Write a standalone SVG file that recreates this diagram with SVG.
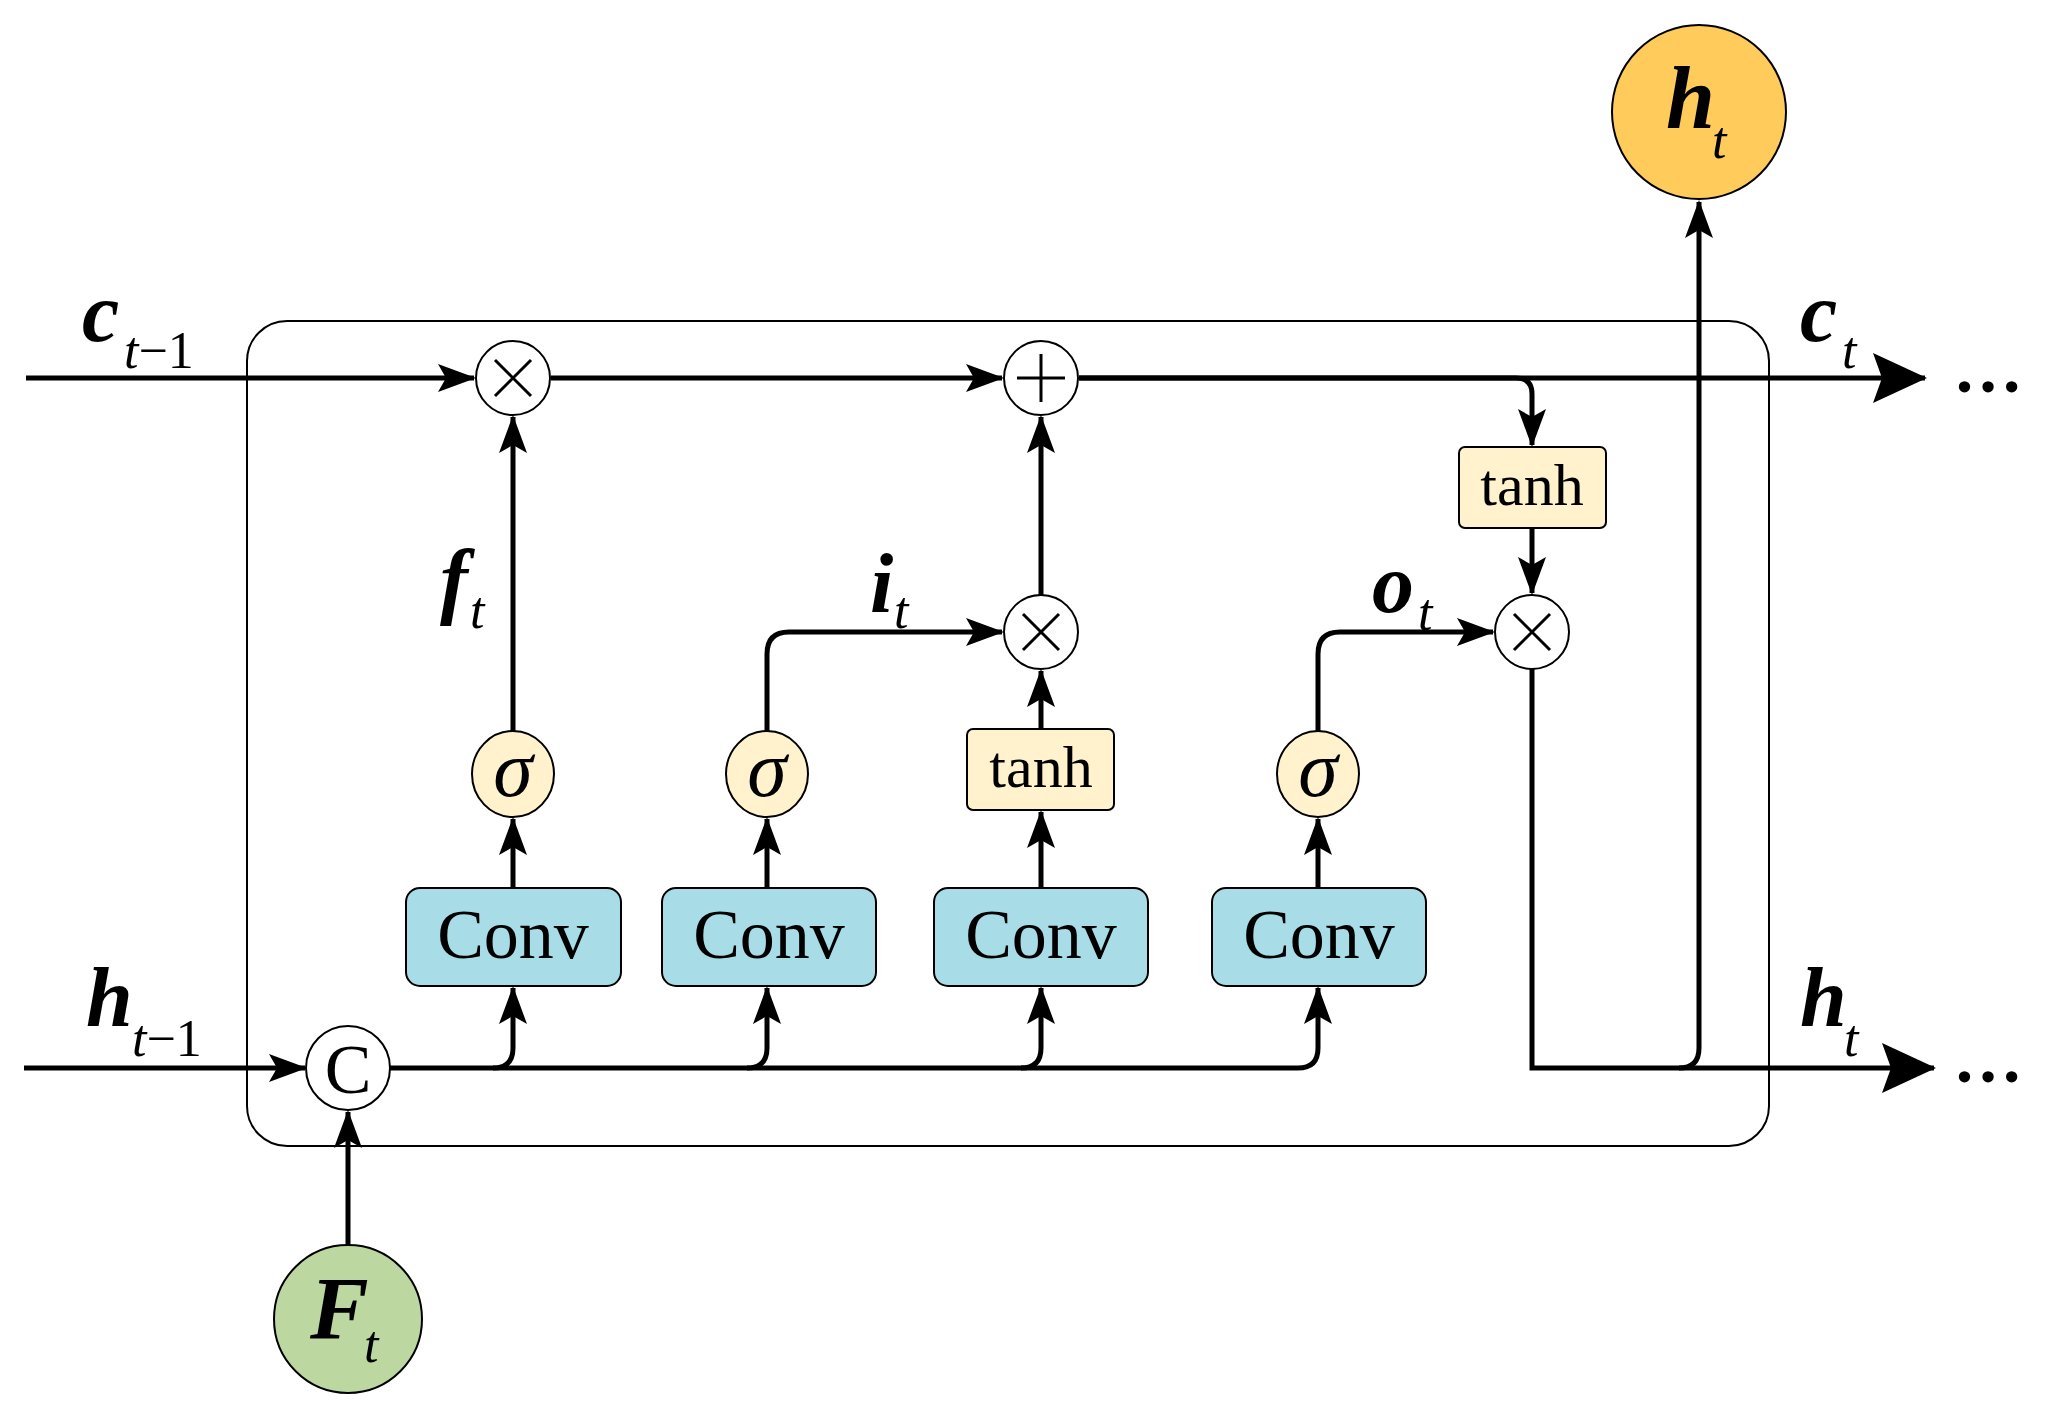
<svg xmlns="http://www.w3.org/2000/svg" width="2064" height="1419" viewBox="0 0 2064 1419">
<style>
.t{font-family:"Liberation Serif","Times New Roman",serif;fill:#000}
.w{stroke:#000;stroke-width:5;fill:none}
.op{fill:#fff;stroke:#000;stroke-width:2}
.sg{fill:#fff2cc;stroke:#000;stroke-width:2}
.cv{fill:#a8dde8;stroke:#000;stroke-width:2}
</style>
<defs>
<marker id="a" markerUnits="userSpaceOnUse" markerWidth="38" markerHeight="28" refX="36" refY="14" orient="auto"><path d="M0,0 L38,14 L0,28 L8,14 Z" fill="#000"/></marker>
<marker id="b" markerUnits="userSpaceOnUse" markerWidth="54" markerHeight="50" refX="52" refY="25" orient="auto"><path d="M0,0 L54,25 L0,50 L9,25 Z" fill="#000"/></marker>
</defs>
<rect x="247" y="321" width="1522" height="825" rx="40" fill="none" stroke="#000" stroke-width="2"/>
<g id="connectors">
<path class="w" d="M26,378 H474" marker-end="url(#a)"/>
<path class="w" d="M551,378 H1002" marker-end="url(#a)"/>
<path class="w" d="M1079,378 H1925" marker-end="url(#b)"/>
<path class="w" d="M1079,378 H1516 q16,0 16,16 V445" marker-end="url(#a)"/>
<path class="w" d="M1532,528 V593" marker-end="url(#a)"/>
<path class="w" d="M513,731 V417" marker-end="url(#a)"/>
<path class="w" d="M1041,595 V417" marker-end="url(#a)"/>
<path class="w" d="M767,731 V654 q0,-22 22,-22 H1002" marker-end="url(#a)"/>
<path class="w" d="M1041,729 V671" marker-end="url(#a)"/>
<path class="w" d="M1318,731 V654 q0,-22 22,-22 H1493" marker-end="url(#a)"/>
<path class="w" d="M513,888 V819" marker-end="url(#a)"/>
<path class="w" d="M767,888 V819" marker-end="url(#a)"/>
<path class="w" d="M1041,888 V812" marker-end="url(#a)"/>
<path class="w" d="M1318,888 V819" marker-end="url(#a)"/>
<path class="w" d="M24,1068 H305" marker-end="url(#a)"/>
<path class="w" d="M390,1068 H493 q20,0 20,-20 V988" marker-end="url(#a)"/>
<path class="w" d="M493,1068 H747 q20,0 20,-20 V988" marker-end="url(#a)"/>
<path class="w" d="M747,1068 H1021 q20,0 20,-20 V988" marker-end="url(#a)"/>
<path class="w" d="M1021,1068 H1298 q20,0 20,-20 V988" marker-end="url(#a)"/>
<path class="w" d="M348,1245 V1112" marker-end="url(#a)"/>
<path class="w" d="M1532,669 V1068 H1934" marker-end="url(#b)"/>
<path class="w" d="M1679,1068 q20,0 20,-20 V202" marker-end="url(#a)"/>
</g>
<g id="mul1"><ellipse class="op" cx="513" cy="378" rx="37" ry="37"/><path d="M495,360 L531,396 M531,360 L495,396" stroke="#000" stroke-width="3"/></g>
<g id="add"><ellipse class="op" cx="1041" cy="378" rx="37" ry="37"/><path d="M1041,354 V402 M1017,378 H1065" stroke="#000" stroke-width="3"/></g>
<g id="mul2"><ellipse class="op" cx="1041" cy="632" rx="37" ry="37"/><path d="M1023,614 L1059,650 M1059,614 L1023,650" stroke="#000" stroke-width="3"/></g>
<g id="mul3"><ellipse class="op" cx="1532" cy="632" rx="37" ry="37"/><path d="M1514,614 L1550,650 M1550,614 L1514,650" stroke="#000" stroke-width="3"/></g>
<g id="sig1"><ellipse class="sg" cx="513" cy="774" rx="41" ry="43"/><text class="t" x="513" y="796" font-size="80" font-style="italic" text-anchor="middle">σ</text></g>
<g id="sig2"><ellipse class="sg" cx="767" cy="774" rx="41" ry="43"/><text class="t" x="767" y="796" font-size="80" font-style="italic" text-anchor="middle">σ</text></g>
<g id="sig3"><ellipse class="sg" cx="1318" cy="774" rx="41" ry="43"/><text class="t" x="1318" y="796" font-size="80" font-style="italic" text-anchor="middle">σ</text></g>
<g id="tanh1"><rect class="sg" x="967" y="729" width="147" height="81" rx="6"/><text class="t" x="1041" y="787" font-size="60" text-anchor="middle">tanh</text></g>
<g id="tanh2"><rect class="sg" x="1459" y="447" width="147" height="81" rx="6"/><text class="t" x="1532" y="505" font-size="60" text-anchor="middle">tanh</text></g>
<g id="conv1"><rect class="cv" x="406" y="888" width="215" height="98" rx="14"/><text class="t" x="513" y="958" font-size="70" text-anchor="middle">Conv</text></g>
<g id="conv2"><rect class="cv" x="662" y="888" width="214" height="98" rx="14"/><text class="t" x="769" y="958" font-size="70" text-anchor="middle">Conv</text></g>
<g id="conv3"><rect class="cv" x="934" y="888" width="214" height="98" rx="14"/><text class="t" x="1041" y="958" font-size="70" text-anchor="middle">Conv</text></g>
<g id="conv4"><rect class="cv" x="1212" y="888" width="214" height="98" rx="14"/><text class="t" x="1319" y="958" font-size="70" text-anchor="middle">Conv</text></g>
<g id="concat"><ellipse class="op" cx="348" cy="1068" rx="42" ry="42"/><text class="t" x="348" y="1093" font-size="70" text-anchor="middle">C</text></g>
<g id="Ft"><ellipse cx="348" cy="1319" rx="74" ry="74" fill="#bdd7a0" stroke="#000" stroke-width="2"/><text class="t" x="310" y="1338" font-size="88" font-weight="bold" font-style="italic">F</text><text class="t" x="364" y="1362" font-size="52" font-style="italic">t</text></g>
<g id="ht_out"><ellipse cx="1699" cy="112" rx="87" ry="87" fill="#ffcc5c" stroke="#000" stroke-width="2"/><text class="t" x="1666" y="128" font-size="88" font-weight="bold" font-style="italic">h</text><text class="t" x="1712" y="158" font-size="52" font-style="italic">t</text></g>
<g id="labels">
<text class="t" x="82" y="341" font-size="84" font-weight="bold" font-style="italic">c</text><text class="t" x="124" y="368" font-size="52"><tspan font-style="italic">t</tspan>−1</text>
<text class="t" x="1800" y="341" font-size="84" font-weight="bold" font-style="italic">c</text><text class="t" x="1842" y="368" font-size="52" font-style="italic">t</text>
<text class="t" x="86" y="1026" font-size="84" font-weight="bold" font-style="italic">h</text><text class="t" x="132" y="1056" font-size="52"><tspan font-style="italic">t</tspan>−1</text>
<text class="t" x="1800" y="1026" font-size="84" font-weight="bold" font-style="italic">h</text><text class="t" x="1844" y="1056" font-size="52" font-style="italic">t</text>
<text class="t" x="440" y="608" font-size="84" font-weight="bold" font-style="italic">f</text><text class="t" x="470" y="628" font-size="52" font-style="italic">t</text>
<text class="t" x="870" y="612" font-size="84" font-weight="bold" font-style="italic">i</text><text class="t" x="894" y="628" font-size="52" font-style="italic">t</text>
<text class="t" x="1372" y="612" font-size="84" font-weight="bold" font-style="italic">o</text><text class="t" x="1418" y="630" font-size="52" font-style="italic">t</text>
<text class="t" x="1953" y="392" font-size="70" font-weight="bold">…</text>
<text class="t" x="1953" y="1082" font-size="70" font-weight="bold">…</text>
</g>
</svg>
